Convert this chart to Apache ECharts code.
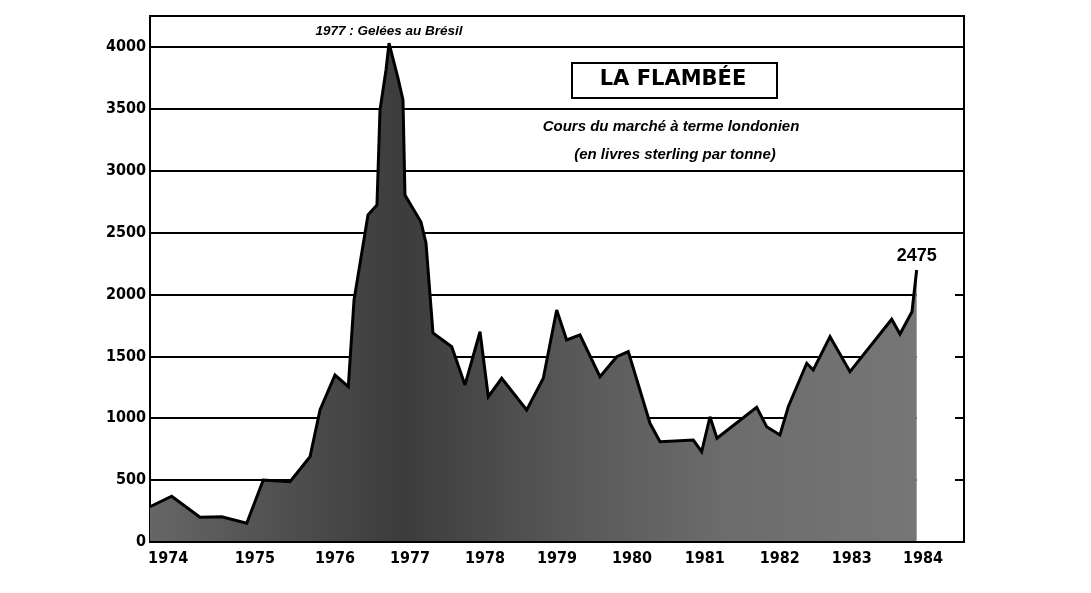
<!DOCTYPE html>
<html>
<head>
<meta charset="utf-8">
<script src="https://cdn.jsdelivr.net/npm/echarts@6/dist/echarts.min.js"></script>
<style>
html,body{margin:0;padding:0;background:#fff;}
#chart{width:1091px;height:593px;}
</style>
</head>
<body>
<div id="chart"></div>
<script>
// ---- data (time in decimal years, price in £ per tonne) ----
const times = [
  1973.483, 1973.778, 1974.163, 1974.459, 1974.799, 1975.024, 1975.388, 1975.660,
  1975.796, 1976.000, 1976.181, 1976.259, 1976.449, 1976.571, 1976.612, 1976.694,
  1976.735, 1976.857, 1976.925, 1976.952, 1977.170, 1977.238, 1977.333, 1977.588,
  1977.769, 1977.973, 1978.086, 1978.268, 1978.608, 1978.834, 1979.016, 1979.152,
  1979.333, 1979.605, 1979.833, 1979.990, 1980.286, 1980.422, 1980.875, 1980.989,
  1981.102, 1981.197, 1981.737, 1981.873, 1982.054, 1982.167, 1982.418, 1982.507,
  1982.735, 1983.007, 1983.574, 1983.687, 1983.850, 1983.914
];
const prices = [
  285, 370, 200, 204, 151, 501, 487, 689,
  1067, 1349, 1255, 1955, 2642, 2723, 3490, 3814,
  4030, 3749, 3571, 2804, 2586, 2416, 1689, 1578,
  1269, 1699, 1174, 1323, 1067, 1323, 1875, 1632,
  1673, 1336, 1497, 1538, 959, 810, 824, 730,
  1012, 838, 1088, 932, 865, 1093, 1444, 1390,
  1659, 1376, 1800, 1680, 1860, 2198
];
const yearLabels = ['1974','1975','1976','1977','1978','1979','1980','1981','1982','1983','1984'];
const yearLabelPos = [1973.73, 1974.91, 1976.00, 1977.02, 1978.04, 1979.02, 1980.04, 1981.03, 1982.05, 1983.03, 1984.00];
const yTicks = [0, 500, 1000, 1500, 2000, 2500, 3000, 3500, 4000];
const xMin = 1973.483, xMax = 1984.558;
const yMax = 4250;
const titleText = 'LA FLAMBÉE';
const subtitle1 = 'Cours du marché à terme londonien';
const subtitle2 = '(en livres sterling par tonne)';
const peakNote = '1977 : Gelées au Brésil';
const endNote = '2475';

const seriesData = times.map((t, i) => [t, prices[i]]);
const peakIdx = prices.indexOf(Math.max(...prices));
const lastIdx = prices.length - 1;

const chart = echarts.init(document.getElementById('chart'), null, {renderer: 'canvas'});
const boldFont = "'Liberation Sans', Arial, sans-serif";
const narrowFont = "'Liberation Sans Narrow', 'DejaVu Sans Condensed', 'Liberation Sans', sans-serif";

chart.setOption({
  backgroundColor: '#ffffff',
  animation: false,
  grid: {
    left: 150, right: 127, top: 16, bottom: 51,
    show: true, borderColor: '#000', borderWidth: 2, backgroundColor: 'transparent'
  },
  xAxis: {
    type: 'value', min: xMin, max: xMax, z: 3,
    axisLine: {show: true, onZero: false, lineStyle: {color: '#000', width: 2}},
    axisTick: {show: false},
    splitLine: {show: false},
    axisLabel: {
      customValues: yearLabelPos,
      formatter: v => { const i = yearLabelPos.indexOf(v); return i >= 0 ? yearLabels[i] : ''; },
      color: '#000', fontFamily: narrowFont, fontWeight: 'bold', fontSize: 16, margin: 9
    }
  },
  yAxis: [{
    type: 'value', min: 0, max: yMax, interval: 500,
    axisLine: {show: true, lineStyle: {color: '#000', width: 2}},
    axisTick: {show: false},
    axisLabel: {
      formatter: v => yTicks.indexOf(v) >= 0 ? String(v) : '',
      color: '#000', fontFamily: narrowFont, fontWeight: 'bold', fontSize: 16, margin: 4
    },
    splitLine: {show: true, lineStyle: {color: '#000', width: 2}}
  }, {
    type: 'value', min: 0, max: yMax, interval: 500, position: 'right', z: 3,
    axisLine: {show: true, lineStyle: {color: '#000', width: 2}},
    axisTick: {show: true, inside: true, length: 9, lineStyle: {color: '#000', width: 2}},
    axisLabel: {show: false},
    splitLine: {show: false}
  }],
  graphic: [
    {
      type: 'rect', left: 571, top: 62, z: 10,
      shape: {width: 205, height: 35},
      style: {fill: '#fff', stroke: '#000', lineWidth: 2}
    },
    {
      type: 'text', x: 673, y: 80, z: 11,
      style: {text: titleText, fill: '#000', font: "bold 21px 'DejaVu Sans', sans-serif", align: 'center', verticalAlign: 'middle'}
    },
    {
      type: 'text', x: 671, y: 127, z: 11,
      style: {text: subtitle1, fill: '#000', font: "italic bold 15px 'Liberation Sans', sans-serif", align: 'center', verticalAlign: 'middle'}
    },
    {
      type: 'text', x: 675, y: 155, z: 11,
      style: {text: subtitle2, fill: '#000', font: "italic bold 15px 'Liberation Sans', sans-serif", align: 'center', verticalAlign: 'middle'}
    }
  ],
  series: [{
    type: 'line',
    data: seriesData,
    symbol: 'none',
    lineStyle: {color: '#000', width: 3, join: 'miter', miterLimit: 3},
    areaStyle: {
      opacity: 1,
      color: {
        type: 'linear', x: 0, y: 0, x2: 1, y2: 0,
        colorStops: [
          {offset: 0, color: '#666666'},
          {offset: 0.2, color: '#4c4c4c'},
          {offset: 0.33, color: '#3c3c3c'},
          {offset: 0.55, color: '#585858'},
          {offset: 0.75, color: '#6c6c6c'},
          {offset: 1, color: '#767676'}
        ]
      }
    },
    markPoint: {
      symbol: 'circle', symbolSize: 0,
      label: {show: true, color: '#000', position: 'top'},
      data: [
        {coord: seriesData[peakIdx], label: {formatter: peakNote, distance: 5, fontFamily: boldFont, fontStyle: 'italic', fontWeight: 'bold', fontSize: 13.5}},
        {coord: seriesData[lastIdx], label: {formatter: endNote, distance: 5, fontFamily: boldFont, fontWeight: 'bold', fontSize: 18}}
      ]
    },
    markArea: {
      silent: true, z: 1,
      itemStyle: {color: '#fff'},
      data: [[{coord: [times[lastIdx], 0]}, {coord: [xMax, 2250]}]]
    }
  }]
});
</script>
</body>
</html>
